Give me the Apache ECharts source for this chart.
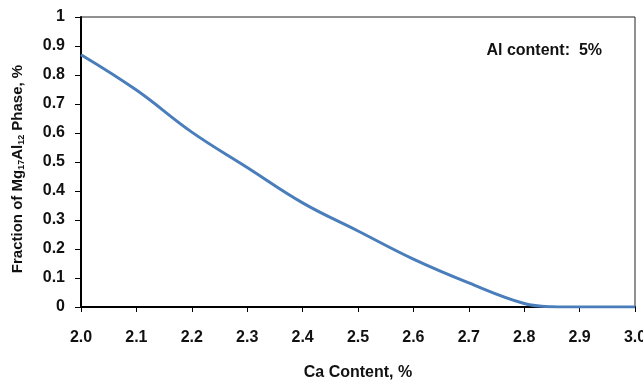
<!DOCTYPE html>
<html>
<head>
<meta charset="utf-8">
<script src="https://cdn.jsdelivr.net/npm/echarts@6/dist/echarts.min.js"></script>
<style>
  html, body { margin: 0; padding: 0; background: #fff; }
  #main { width: 643px; height: 381px; }
</style>
</head>
<body>
<div id="main"></div>
<script>
// Ca content (%) and fraction of Mg17Al12 phase
const caContent = [2.0, 2.1, 2.2, 2.3, 2.4, 2.5, 2.6, 2.7, 2.8, 2.85, 2.9, 3.0];
const fraction = [0.87, 0.748, 0.603, 0.481, 0.359, 0.262, 0.165, 0.083, 0.012, 0.001, 0, 0];
const noteText = "Al content:  5%";

const font = "'Liberation Sans', Arial, sans-serif";

let chart = echarts.init(document.getElementById("main"));
chart.setOption({
  animation: false,
  grid: {
    left: 81, top: 17, right: 8, bottom: 74,
    containLabel: false,
    outerBoundsMode: "none",
    show: true, borderColor: "#222", borderWidth: 1
  },
  xAxis: {
    type: "value",
    min: 2, max: 3, interval: 0.1,
    name: "Ca Content, %",
    nameLocation: "middle",
    nameGap: 58,
    nameTextStyle: { fontFamily: font, fontWeight: "bold", fontSize: 16, color: "#111" },
    axisLine: { lineStyle: { color: "#000", width: 2 } },
    axisTick: { show: true, length: 5, lineStyle: { color: "#000", width: 1 } },
    axisLabel: {
      margin: 23, fontFamily: font, fontWeight: "bold", fontSize: 16, color: "#111",
      formatter: v => v.toFixed(1)
    },
    splitLine: { show: false }
  },
  yAxis: {
    type: "value",
    min: 0, max: 1, interval: 0.1,
    name: "Fraction of Mg{sub|17}Al{sub|12} Phase, %",
    nameLocation: "middle",
    nameGap: 55,
    nameRotate: 90,
    nameTextStyle: {
      fontFamily: font, fontWeight: "bold", fontSize: 15, color: "#111",
      padding: [0, 14, 0, 0],
      rich: {
        sub: { fontFamily: font, fontWeight: "bold", fontSize: 9, color: "#111", padding: [7, 0, 0, 0] }
      }
    },
    axisLine: { show: true, lineStyle: { color: "#000", width: 2 } },
    axisTick: { show: true, length: 6, lineStyle: { color: "#000", width: 1 } },
    axisLabel: {
      margin: 16, fontFamily: font, fontWeight: "bold", fontSize: 16, color: "#111",
      formatter: v => (v === 0 ? "0" : v === 1 ? "1" : v.toFixed(1))
    },
    splitLine: { show: false }
  },
  series: [
    {
      type: "line",
      data: caContent.map((c, i) => [c, fraction[i]]),
      smooth: 0.4,
      showSymbol: false,
      lineStyle: { color: "#4A7EBB", width: 3 }
    }
  ],
  graphic: [
    {
      type: "text",
      right: 41, top: 43,
      style: { text: noteText, fontFamily: font, fontWeight: "bold", fontSize: 16, fill: "#111" }
    }
  ]
});
</script>
</body>
</html>
